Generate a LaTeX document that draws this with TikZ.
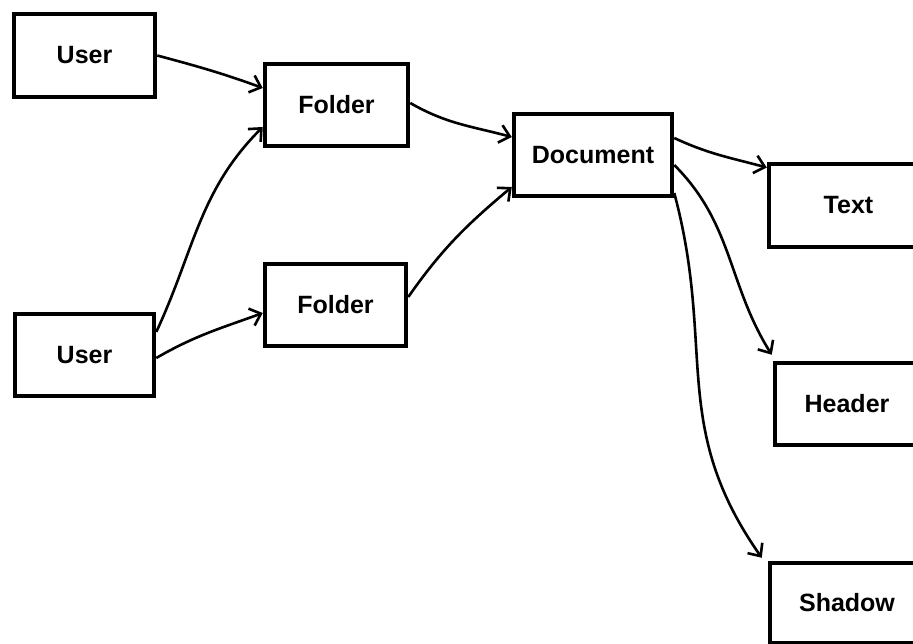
\documentclass[tikz,border=0pt]{standalone}
\usepackage{fontspec}
\setmainfont{Liberation Sans}
\usetikzlibrary{arrows.meta}
\begin{document}
\begin{tikzpicture}[x=1pt,y=-1pt,
  box/.style={draw=black,line width=4.5pt,rectangle,inner sep=0pt,
    font=\fontsize{25}{29}\selectfont\bfseries},
  link/.style={line width=2.6pt,-{Straight Barb[length=10pt,width=18pt,line width=2.6pt]}}]
\useasboundingbox (0,0) rectangle (913,644);
\clip (0,0) rectangle (913,644);
\fill[white] (0,0) rectangle (913,644);
\node[box,minimum width=141pt,minimum height=83pt] (u1) at (84.5,55.5) {User};
\node[box,minimum width=143pt,minimum height=82pt] (f1) at (336.5,105) {Folder};
\node[box,minimum width=158pt,minimum height=82pt] (doc) at (593,155) {Document};
\node[box,minimum width=159pt,minimum height=83pt] (txt) at (848.5,205.5) {Text};
\node[box,minimum width=144pt,minimum height=82pt] (hdr) at (847,404) {Header};
\node[box,minimum width=154pt,minimum height=80pt] (sh) at (847,603) {Shadow};
\node[box,minimum width=139pt,minimum height=82pt] (u2) at (84.5,355) {User};
\node[box,minimum width=141pt,minimum height=82pt] (f2) at (335.5,305) {Folder};
% connectors
\draw[link] (u1.east) to[out=-15,in=160] ([yshift=17pt]f1.west);
\draw[link] ([yshift=23pt]u2.east) to[out=65,in=-135] ([yshift=-22pt]f1.west);
\draw[link] ([yshift=-3pt]u2.east) to[out=30,in=200] ([yshift=-8pt]f2.west);
\draw[link] ([yshift=2pt]f1.east) to[out=-30,in=165] ([yshift=18pt]doc.west);
\draw[link] ([yshift=8pt]f2.east) to[out=55,in=-140] ([yshift=-32pt]doc.west);
\draw[link] ([yshift=17pt]doc.east) to[out=-25,in=165] ([yshift=38pt]txt.west);
\draw[link] ([yshift=-10pt]doc.east) to[out=-45,in=122] ([shift={(-1pt,6pt)}]hdr.north west);
\draw[link] ([yshift=-38pt]doc.east) to[out=-75,in=125,looseness=1.1] ([shift={(-6pt,3pt)}]sh.north west);
\end{tikzpicture}
\end{document}
